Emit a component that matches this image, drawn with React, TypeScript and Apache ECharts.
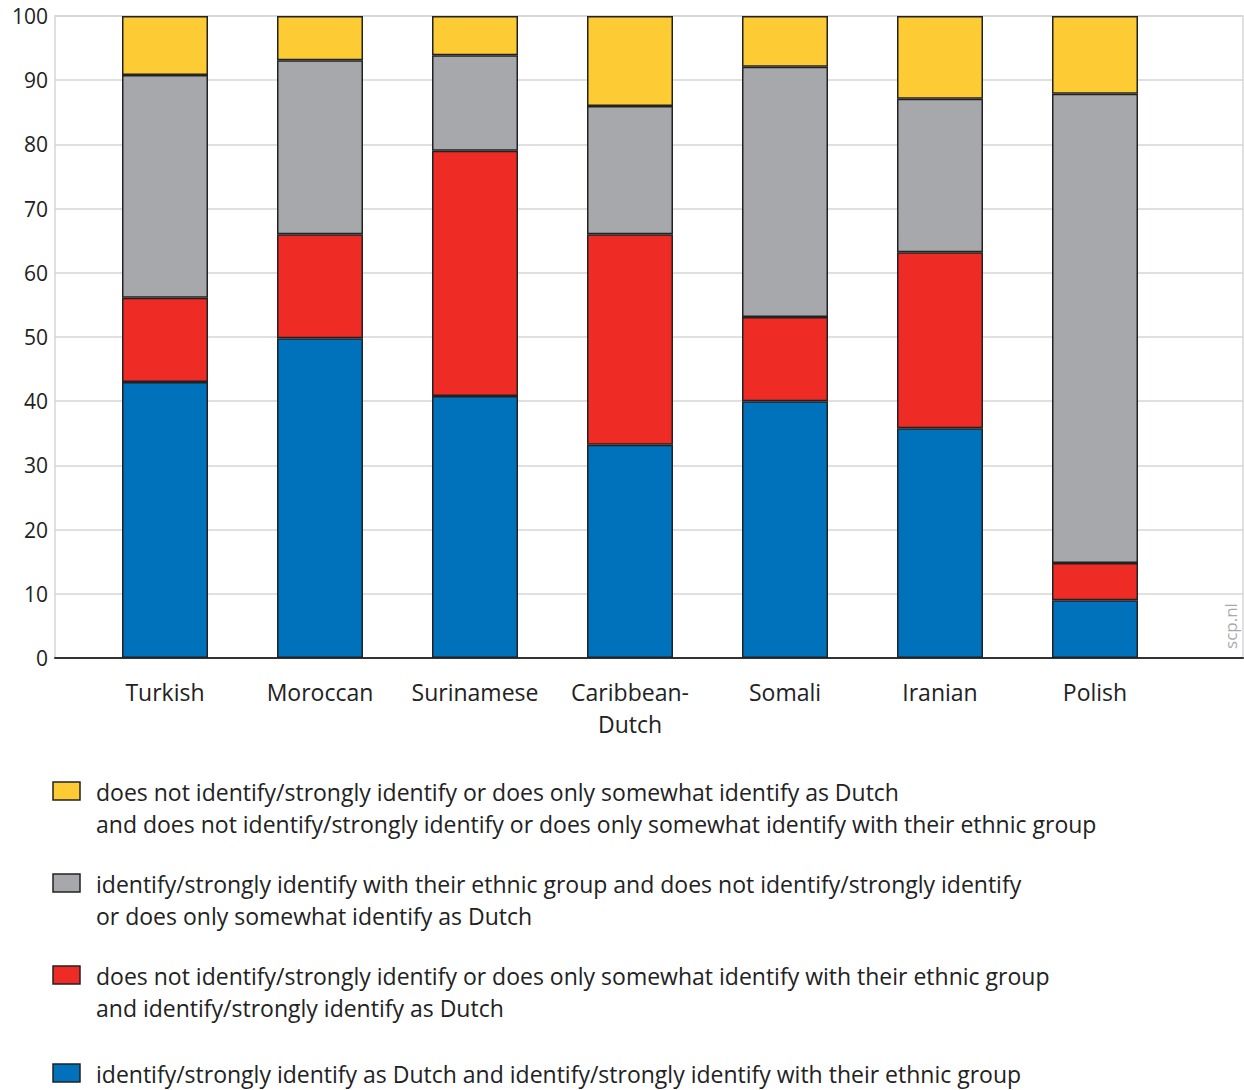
import React, { useEffect, useRef } from "react";
import * as echarts from "echarts";

const categories = ["Turkish", "Moroccan", "Surinamese", "Caribbean-\nDutch", "Somali", "Iranian", "Polish"];
const blueValues = [43.0, 49.8, 40.8, 33.2, 40.0, 35.8, 9.0];
const redValues = [13.1, 16.2, 38.2, 32.8, 13.1, 27.4, 5.8];
const grayValues = [34.7, 27.1, 14.9, 20.0, 39.0, 23.9, 73.1];
const yellowValues = [9.2, 6.9, 6.1, 14.0, 7.9, 12.9, 12.1];

const legendItems = [
  { color: "#FDCB33", text: "does not identify/strongly identify or does only somewhat identify as Dutch\nand does not identify/strongly identify or does only somewhat identify with their ethnic group" },
  { color: "#A7A8AB", text: "identify/strongly identify with their ethnic group and does not identify/strongly identify\nor does only somewhat identify as Dutch" },
  { color: "#EE2B24", text: "does not identify/strongly identify or does only somewhat identify with their ethnic group\nand identify/strongly identify as Dutch" },
  { color: "#0071BB", text: "identify/strongly identify as Dutch and identify/strongly identify with their ethnic group" },
];

const FONT = "'Open Sans', 'Noto Sans', sans-serif";

export default function App() {
  const ref = useRef<HTMLDivElement>(null);
  useEffect(() => {
    if (!ref.current) return;
    const chart = echarts.init(ref.current, null, { renderer: "svg" });
    const seriesDefs = [
      { name: "blue", data: blueValues, color: "#0071BB" },
      { name: "red", data: redValues, color: "#EE2B24" },
      { name: "gray", data: grayValues, color: "#A7A8AB" },
      { name: "yellow", data: yellowValues, color: "#FDCB33" },
    ];
    const legendTops = [782, 874, 966, 1064];
    const graphic: any[] = [];
    legendItems.forEach((it, i) => {
      graphic.push({
        type: "rect",
        shape: { x: 53, y: legendTops[i], width: 27, height: 18 },
        style: { fill: it.color, stroke: "#222", lineWidth: 1.5 },
      });
      graphic.push({
        type: "text",
        x: 96,
        y: legendTops[i] - 6,
        style: { text: it.text, font: `23px ${FONT}`, fill: "#222", lineHeight: 32, verticalAlign: "top" },
      });
    });
    graphic.push({
      type: "text",
      x: 1230,
      y: 626,
      rotation: Math.PI / 2,
      style: { text: "scp.nl", font: `17px ${FONT}`, fill: "#aaa", align: "center", verticalAlign: "middle" },
    });
    chart.setOption({
      animation: false,
      grid: [
        { left: 55, top: 16, width: 1188, bottom: 432, show: true, borderColor: "#d6d6d6", borderWidth: 1.5 },
        { left: 87.5, top: 16, width: 1085, bottom: 432 },
      ],
      xAxis: [
        {
          gridIndex: 0, type: "category", data: ["a"],
          axisLine: { lineStyle: { color: "#333", width: 2 } },
          axisTick: { show: false }, axisLabel: { show: false }, splitLine: { show: false },
        },
        {
          gridIndex: 1, type: "category", data: categories,
          axisLine: { show: false }, axisTick: { show: false },
          axisLabel: { interval: 0, fontFamily: FONT, fontSize: 23, color: "#222", lineHeight: 32, margin: 18 },
        },
      ],
      yAxis: [
        {
          gridIndex: 0, type: "value", min: 0, max: 100, interval: 10,
          axisLine: { show: false }, axisTick: { show: false },
          axisLabel: { fontFamily: FONT, fontSize: 21, color: "#222", margin: 7 },
          splitLine: { lineStyle: { color: "#d6d6d6", width: 1.5 } },
        },
        {
          gridIndex: 1, type: "value", min: 0, max: 100, interval: 10, show: false,
          splitLine: { show: false },
        },
      ],
      series: seriesDefs.map((s) => ({
        type: "bar",
        name: s.name,
        xAxisIndex: 1,
        yAxisIndex: 1,
        stack: "total",
        data: s.data,
        barWidth: 86,
        itemStyle: { color: s.color, borderColor: "#222", borderWidth: 1.5 },
      })),
      graphic,
    });
    return () => chart.dispose();
  }, []);
  return <div ref={ref} style={{ position: "fixed", left: 0, top: 0, width: 1244, height: 1090, background: "#fff" }} />;
}
